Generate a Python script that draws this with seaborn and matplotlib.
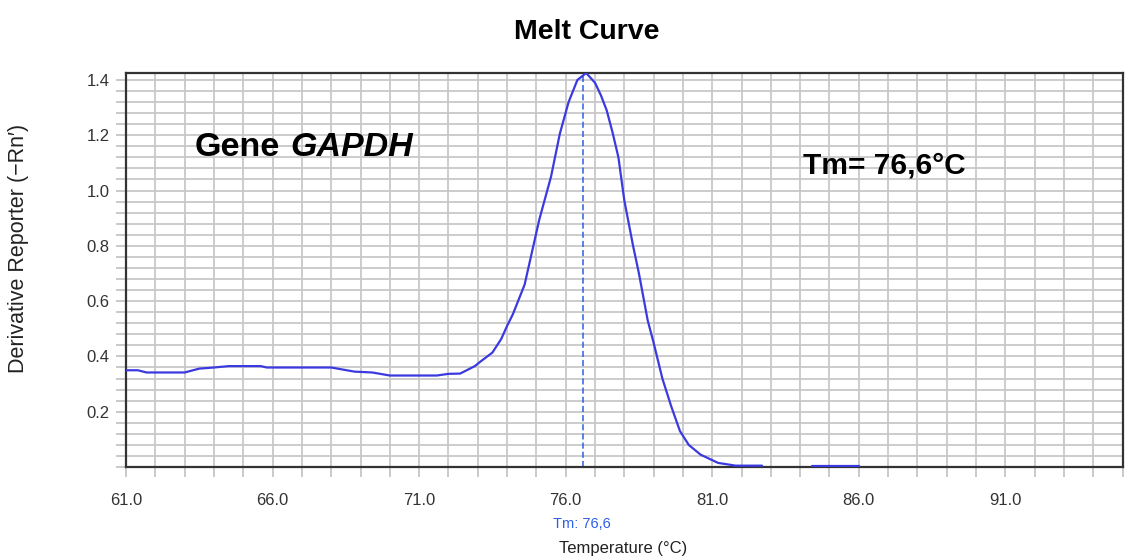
import numpy as np
import pandas as pd
import seaborn as sns
import matplotlib
matplotlib.use('Agg')
import matplotlib.pyplot as plt
from matplotlib.ticker import MultipleLocator, FixedLocator

# melt curve (temperature in C, derivative reporter)
temps_a = [61.0, 61.4, 61.7, 62.0, 63.0, 63.5, 64.0, 64.5, 65.0, 65.6, 65.8,
           66.5, 67.0, 68.0, 68.8, 69.4, 70.0, 71.0, 71.6, 72.0, 72.4, 72.9,
           73.1, 73.5, 73.8, 74.0, 74.2, 74.6, 75.1, 75.5, 75.8, 76.1, 76.4,
           76.7, 77.0, 77.2, 77.4, 77.6, 77.8, 78.0, 78.3, 78.5, 78.8, 79.0,
           79.3, 79.6, 79.9, 80.2, 80.6, 81.2, 81.8, 82.7]
deriv_a = [0.350, 0.350, 0.342, 0.342, 0.342, 0.356, 0.360, 0.365, 0.365, 0.365, 0.360,
           0.360, 0.360, 0.360, 0.345, 0.342, 0.331, 0.331, 0.331, 0.337, 0.338, 0.365,
           0.382, 0.414, 0.463, 0.510, 0.553, 0.660, 0.895, 1.050, 1.205, 1.320, 1.400,
           1.425, 1.390, 1.345, 1.290, 1.210, 1.120, 0.965, 0.800, 0.700, 0.530, 0.450,
           0.320, 0.220, 0.130, 0.080, 0.045, 0.015, 0.005, 0.005]
# second little piece after the gap
temps_b = [84.4, 86.0]
deriv_b = [0.005, 0.005]

tm = 76.6
x_ticks = [61.0, 66.0, 71.0, 76.0, 81.0, 86.0, 91.0]
y_ticks = [0.2, 0.4, 0.6, 0.8, 1.0, 1.2, 1.4]

df = pd.DataFrame({
    'Temperature': temps_a + temps_b,
    'Deriv': deriv_a + deriv_b,
    'seg': [0] * len(temps_a) + [1] * len(temps_b),
})

sns.set_style('white')
plt.rcParams['font.family'] = ['Liberation Sans', 'DejaVu Sans']
plt.rcParams['text.color'] = 'black'

fig = plt.figure(figsize=(11.48, 5.6), dpi=100)
ax = fig.add_axes([0.1098, 0.166, 0.868, 0.7036])

sns.lineplot(data=df, x='Temperature', y='Deriv', units='seg', estimator=None,
             color='#3a3ae0', lw=1.6, ax=ax, zorder=3)
ax.axvline(tm, color='#2e5ee8', lw=1.1, ls=(0, (4, 2)), zorder=2)

ax.set_xlim(61.0, 95.0)
ax.set_ylim(0, 1.425)
ax.xaxis.set_major_locator(FixedLocator(x_ticks))
ax.xaxis.set_minor_locator(MultipleLocator(1.0))
ax.yaxis.set_major_locator(FixedLocator(y_ticks))
ax.yaxis.set_minor_locator(MultipleLocator(0.04))
ax.set_xticklabels([f'{t:.1f}' for t in x_ticks], fontsize=12, color='#333333')
ax.set_yticklabels([f'{t:.1f}' for t in y_ticks], fontsize=12, color='#333333')

ax.grid(True, which='both', color='#c8c8c8', lw=1.3)
ax.set_axisbelow(True)
ax.tick_params(which='both', direction='out', length=7, width=1.2, color='#c0c0c0',
               bottom=True, left=True)
ax.tick_params(axis='x', which='major', pad=12)
ax.tick_params(axis='y', which='major', pad=5)
for s in ax.spines.values():
    s.set_color('#333333')
    s.set_linewidth(1.6)

ax.set_xlabel('')
ax.set_ylabel('')
fig.text(0.0165, 0.557, 'Derivative Reporter (\u2212Rn\u2032)', rotation=90,
         ha='center', va='center', fontsize=15.5, color='#222222')
fig.text(0.5425, 0.021, 'Temperature (\u00b0C)', ha='center', va='center',
         fontsize=12, color='#222222')
fig.text(0.507, 0.064, 'Tm: 76,6', ha='center', va='center',
         fontsize=10.5, color='#2e5ee8')
fig.text(0.511, 0.943, 'Melt Curve', ha='center', va='center',
         fontsize=20.5, fontweight='bold')

ax.text(0.069, 0.812, 'Gene', transform=ax.transAxes, fontsize=24.5,
        fontweight='bold', ha='left', va='center')
ax.text(0.1645, 0.812, 'GAPDH', transform=ax.transAxes, fontsize=24.5,
        fontweight='bold', style='italic', ha='left', va='center')
ax.text(0.6795, 0.766, 'Tm= 76,6\u00b0C', transform=ax.transAxes, fontsize=21.5,
        fontweight='bold', ha='left', va='center')

fig.savefig('out.png', dpi=100)
